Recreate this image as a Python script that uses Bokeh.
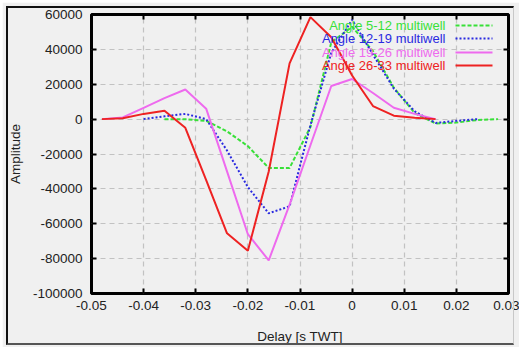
from bokeh.plotting import figure
from bokeh.models import (Range1d, LinearAxis, FixedTicker, Label, Arrow,
                          CustomJSTickFormatter, InlineStyleSheet)
from bokeh.embed import file_html
from bokeh.resources import INLINE

# ---- data ----
x_ticks = [-0.05, -0.04, -0.03, -0.02, -0.01, 0.0, 0.01, 0.02, 0.03]
x_tick_labels = ["-0.05", "-0.04", "-0.03", "-0.02", "-0.01", "0", "0.01", "0.02", "0.03"]
y_ticks = [-100000, -80000, -60000, -40000, -20000, 0, 20000, 40000, 60000]
y_tick_labels = ["-100000", "-80000", "-60000", "-40000", "-20000", "0", "20000", "40000", "60000"]

names = ["Angle 5-12 multiwell", "Angle 12-19 multiwell",
         "Angle 19-26 multiwell", "Angle 26-33 multiwell"]

x_a5 = [-0.036, -0.032, -0.028, -0.024, -0.020, -0.016, -0.012, -0.008, -0.004,
        0.0, 0.004, 0.008, 0.012, 0.016, 0.020, 0.024, 0.028]
y_a5 = [0, 0, -1000, -7000, -15500, -28000, -28000, -4500, 44000,
        53000, 39000, 18000, 3500, -2500, -2000, -500, 0]

x_a12 = [-0.040, -0.036, -0.032, -0.028, -0.024, -0.020, -0.016, -0.012, -0.008,
         -0.004, 0.0, 0.004, 0.008, 0.012, 0.016, 0.020, 0.024]
y_a12 = [0, 1600, 3000, 0, -18000, -39000, -54000, -50000, -3500,
         38000, 57000, 37000, 17500, 4500, -2200, -1000, 0]

x_a19 = [-0.048, -0.044, -0.040, -0.036, -0.032, -0.028, -0.024, -0.020, -0.016,
         -0.012, -0.008, -0.004, 0.0, 0.004, 0.008, 0.012, 0.016]
y_a19 = [0, 1000, 6500, 12000, 17000, 6000, -30000, -66000, -81000,
         -49000, -15000, 19000, 23000, 15000, 6500, 3000, 0]

x_a26 = [-0.048, -0.044, -0.040, -0.036, -0.032, -0.028, -0.024, -0.020, -0.016,
         -0.012, -0.008, -0.004, 0.0, 0.004, 0.008, 0.012, 0.016]
y_a26 = [0, 500, 3000, 4800, -5000, -35000, -65500, -75500, -30000,
         32000, 58500, 47000, 25000, 7500, 2000, 800, 0]

series = [
    (x_a5, y_a5, "#38e038", "4 2"),
    (x_a12, y_a12, "#2a2ae0", "2 2"),
    (x_a19, y_a19, "#ee6aee", "solid"),
    (x_a26, y_a26, "#ee2222", "solid"),
]

FONT = "Liberation Sans"
BG = "#f0f0f0"
W, H = 517, 345
LB, RB, TB, BB = 89, 11, 12, 54
FH = H - TB - BB

p = figure(width=W, height=H, output_backend="svg", toolbar_location=None,
           x_range=Range1d(-0.05, 0.03), y_range=Range1d(-100000, 60000),
           min_border_left=LB, min_border_right=RB, min_border_top=TB, min_border_bottom=BB)
p.styles = {"margin-left": "2px", "margin-top": "2px"}
frame_css = (":host::after { content: ''; position: absolute; left: 4px; top: 4px; "
             "width: 508px; height: 339px; box-sizing: border-box; "
             "border-left: 2px solid #111111; border-top: 2px solid #111111; "
             "border-bottom: 2px solid #555555; border-right: 1px solid #c8c8c8; "
             "pointer-events: none; z-index: 10; }")
p.stylesheets = [InlineStyleSheet(css=frame_css)]
p.background_fill_color = BG
p.border_fill_color = BG
p.outline_line_color = "black"
p.outline_line_width = 3

xt = FixedTicker(ticks=x_ticks, minor_ticks=[])
yt = FixedTicker(ticks=y_ticks, minor_ticks=[])

for ax, tk, labs, ticks in [(p.xaxis[0], xt, x_tick_labels, x_ticks),
                            (p.yaxis[0], yt, y_tick_labels, y_ticks)]:
    ax.ticker = tk
    ax.major_label_overrides = {t: l for t, l in zip(ticks, labs)}
    ax.axis_line_color = None
    ax.major_tick_in = 5
    ax.major_tick_out = 0
    ax.major_tick_line_width = 2
    ax.major_tick_line_color = "black"
    ax.minor_tick_line_color = None
    ax.major_label_text_font = FONT
    ax.major_label_text_font_size = "13.5px"
    ax.major_label_text_color = "#222222"
    ax.axis_label_text_font = FONT
    ax.axis_label_text_font_size = "13.5px"
    ax.axis_label_text_font_style = "normal"
    ax.axis_label_text_color = "#222222"
    ax.axis_label_text_line_height = 1.0

p.xaxis[0].axis_label = "Delay [s TWT]"
p.xaxis[0].major_label_standoff = 7
p.xaxis[0].axis_label_standoff = 16
p.yaxis[0].axis_label = "Amplitude"
p.yaxis[0].major_label_standoff = 9
p.yaxis[0].axis_label_standoff = 7

# mirror ticks on top and right (gnuplot style), no labels
blank = CustomJSTickFormatter(code="return ''")
for loc, tk in [("above", xt), ("right", yt)]:
    ax = LinearAxis(ticker=tk, formatter=blank, axis_line_color=None, major_tick_in=5,
                    major_tick_out=0, major_tick_line_width=2, major_tick_line_color="black",
                    minor_tick_line_color=None, major_label_text_font_size="1px",
                    major_label_standoff=0)
    p.add_layout(ax, loc)

p.xgrid[0].ticker = xt
p.ygrid[0].ticker = yt
for g in (p.xgrid[0], p.ygrid[0]):
    g.grid_line_color = "#c2c2c2"
    g.grid_line_dash = "5 4"
    g.grid_line_width = 1.2

for (xs, ys, c, d) in series:
    p.line(xs, ys, line_color=c, line_width=2, line_dash=d)

# gnuplot-style key: text right-aligned, sample to the right (frame-relative screen units)
row_y = [11, 24, 38, 51]
for name, (xs, ys, c, d), ry in zip(names, series, row_y):
    p.add_layout(Label(x=354, y=FH - ry, x_units="screen", y_units="screen",
                       text=name, text_align="right", text_baseline="middle",
                       text_font=FONT, text_font_size="13px", text_color=c))
    p.add_layout(Arrow(end=None, x_start=364, y_start=FH - ry, x_end=401, y_end=FH - ry,
                       start_units="screen", end_units="screen",
                       line_color=c, line_width=2, line_dash=d))

open("out.html", "w").write(file_html(p, INLINE))
